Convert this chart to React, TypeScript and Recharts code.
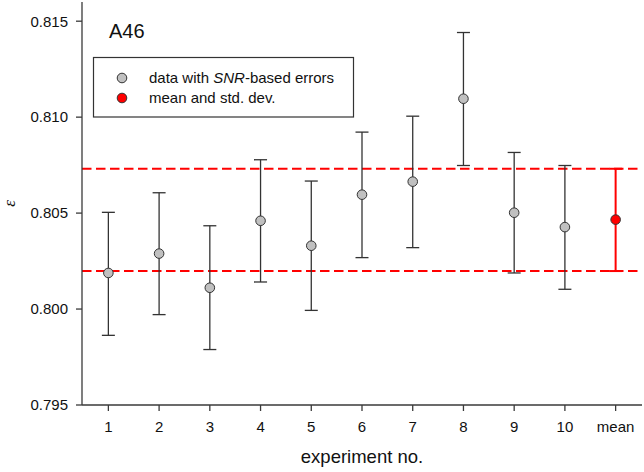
import React from 'react';
import { ComposedChart, Scatter, XAxis, YAxis, ErrorBar, ReferenceLine, Label } from 'recharts';

// ---- data ----
const categories = ['1', '2', '3', '4', '5', '6', '7', '8', '9', '10', 'mean'];
const values = [0.80188, 0.80289, 0.80111, 0.8046, 0.8033, 0.80596, 0.80664, 0.81096, 0.80502, 0.80427];
const lowerBounds = [0.79863, 0.79971, 0.79789, 0.80141, 0.79993, 0.80268, 0.8032, 0.80748, 0.80188, 0.80103];
const upperBounds = [0.80504, 0.80606, 0.80434, 0.80778, 0.80667, 0.80922, 0.81005, 0.81441, 0.80816, 0.80748];
const meanValue = 0.80466;
const meanLower = 0.80198;
const meanUpper = 0.80731;
const yTicks = [0.795, 0.8, 0.805, 0.81, 0.815];
const yDomain = [0.795, 0.816];
const legendLabels = ['data with ', 'SNR', '-based errors', 'mean and std. dev.'];
const title = 'A46';

const xTicks = categories.map((_, i) => i + 1);
const xDomain = [0.48, categories.length + 0.52];

const expData = values.map((v, i) => ({
  x: i + 1,
  y: v,
  err: [v - lowerBounds[i], upperBounds[i] - v],
}));
const meanData = [
  { x: categories.length, y: meanValue, err: [meanValue - meanLower, meanUpper - meanValue] },
];

// ---- styles ----
const FONT = '"Liberation Sans", Arial, Helvetica, sans-serif';
const AXIS = '#3a3a3a';
const GRAY = '#c0c0c0';
const RED = '#ff0000';
const BAR = '#333333';

const GrayDot = (props: any) => (
  <circle cx={props.cx} cy={props.cy} r={4.8} fill={GRAY} stroke="#333" strokeWidth={1} />
);
const RedDot = (props: any) => (
  <circle cx={props.cx} cy={props.cy} r={4.8} fill={RED} stroke="#333" strokeWidth={1} />
);

const YLabel = (props: any) => {
  const vb = props.viewBox || { x: 0, y: 0, width: 82, height: 400 };
  const cx = vb.x + 15;
  const cy = vb.y + vb.height / 2;
  return (
    <text
      x={cx}
      y={cy}
      textAnchor="middle"
      transform={`rotate(-90 ${cx} ${cy})`}
      fontFamily='"Liberation Serif", "DejaVu Serif", serif'
      fontStyle="italic"
      fontSize={17}
      fill="#111"
    >
      ε
    </text>
  );
};

const LegendBox = () => (
  <svg
    width={262}
    height={61}
    style={{ position: 'absolute', left: 93, top: 57, overflow: 'visible' }}
  >
    <rect x={0.5} y={0.5} width={260} height={59.5} fill="#fff" stroke="#333" strokeWidth={1.2} />
    <circle cx={29} cy={21} r={4.8} fill={GRAY} stroke="#333" strokeWidth={1} />
    <circle cx={29} cy={41} r={4.8} fill={RED} stroke="#333" strokeWidth={1} />
    <text x={56} y={21} dy="0.355em" fontFamily={FONT} fontSize={15} fill="#111">
      {legendLabels[0]}
      <tspan fontStyle="italic">{legendLabels[1]}</tspan>
      {legendLabels[2]}
    </text>
    <text x={56} y={41} dy="0.355em" fontFamily={FONT} fontSize={15} fill="#111">
      {legendLabels[3]}
    </text>
  </svg>
);

export default function App() {
  return (
    <div style={{ position: 'absolute', left: 0, top: 0, width: 644, height: 472, background: '#fff' }}>
      <ComposedChart
        width={644}
        height={472}
        margin={{ top: 2, right: 2, left: 0, bottom: 0 }}
      >
        <XAxis
          dataKey="x"
          type="number"
          domain={xDomain}
          ticks={xTicks}
          allowDataOverflow
          tickFormatter={(v: number) => categories[v - 1] ?? ''}
          height={67}
          tickSize={6}
          tickMargin={10}
          axisLine={{ stroke: AXIS, strokeWidth: 1.3 }}
          tickLine={{ stroke: AXIS, strokeWidth: 1.3 }}
          tick={{ fill: '#111', fontSize: 15, fontFamily: FONT }}
          interval={0}
        >
          <Label
            value="experiment no."
            position="insideBottom"
            offset={9}
            style={{ fill: '#111', fontSize: 18.5, fontFamily: FONT }}
          />
        </XAxis>
        <XAxis
          xAxisId="top"
          orientation="top"
          type="number"
          domain={xDomain}
          allowDataOverflow
          height={0}
          tick={false}
          tickLine={false}
          axisLine={{ stroke: AXIS, strokeWidth: 1.3 }}
        />
        <YAxis
          dataKey="y"
          type="number"
          domain={yDomain}
          ticks={yTicks}
          allowDataOverflow
          width={82}
          tickSize={6}
          tickMargin={8}
          tickFormatter={(v: number) => v.toFixed(3)}
          axisLine={{ stroke: AXIS, strokeWidth: 1.3 }}
          tickLine={{ stroke: AXIS, strokeWidth: 1.3 }}
          tick={{ fill: '#111', fontSize: 15, fontFamily: FONT }}
          label={<Label content={YLabel} />}
        />
        <YAxis
          yAxisId="right"
          orientation="right"
          type="number"
          domain={yDomain}
          allowDataOverflow
          width={0}
          tick={false}
          tickLine={false}
          axisLine={{ stroke: AXIS, strokeWidth: 1.3 }}
        />
        <ReferenceLine y={meanUpper} stroke={RED} strokeWidth={2} strokeDasharray="9.5 4.5" />
        <ReferenceLine y={meanLower} stroke={RED} strokeWidth={2} strokeDasharray="9.5 4.5" />
        <Scatter data={expData} dataKey="y" shape={GrayDot} isAnimationActive={false}>
          <ErrorBar dataKey="err" direction="y" width={6.5} stroke={BAR} strokeWidth={1.3} isAnimationActive={false} />
        </Scatter>
        <Scatter data={meanData} dataKey="y" shape={RedDot} isAnimationActive={false}>
          <ErrorBar dataKey="err" direction="y" width={6.5} stroke={RED} strokeWidth={2} isAnimationActive={false} />
        </Scatter>
      </ComposedChart>
      <div
        style={{
          position: 'absolute',
          left: 109,
          top: 20.8,
          fontFamily: FONT,
          fontSize: 20,
          lineHeight: 1,
          color: '#111',
        }}
      >
        {title}
      </div>
      <LegendBox />
    </div>
  );
}
